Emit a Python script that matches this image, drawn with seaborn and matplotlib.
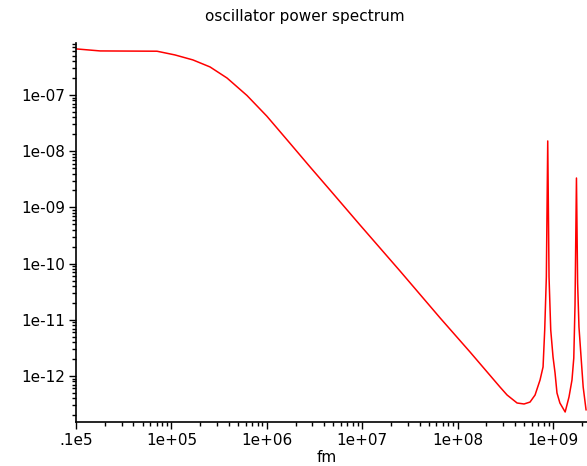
import numpy as np
import pandas as pd
import matplotlib
matplotlib.use("Agg")
import matplotlib.pyplot as plt
import seaborn as sns
from matplotlib.ticker import FixedLocator, FixedFormatter, LogLocator, NullFormatter

# values (frequency fm, power)
fm = [1.0e4, 1.79e4, 7.06e4, 1.09e5, 1.68e5, 2.54e5, 3.83e5, 6.19e5, 1.0e6,
      1.75e6, 2.84e6, 4.59e6, 9.48e6, 2.49e7, 6.55e7, 1.35e8, 2.78e8, 3.30e8,
      4.20e8, 4.97e8, 5.74e8, 6.48e8, 7.31e8, 7.86e8, 8.18e8, 8.51e8, 8.80e8,
      9.08e8, 9.46e8, 1.0e9, 1.05e9, 1.10e9, 1.18e9, 1.34e9, 1.47e9, 1.58e9,
      1.65e9, 1.70e9, 1.76e9, 1.81e9, 1.87e9, 1.97e9, 2.07e9, 2.22e9]
power = [6.6e-7, 6.07e-7, 6.0e-7, 5.15e-7, 4.2e-7, 3.15e-7, 2.0e-7, 9.8e-8,
         4.2e-8, 1.38e-8, 5.24e-9, 2.04e-9, 4.86e-10, 7.38e-11, 1.08e-11,
         2.67e-12, 6.37e-13, 4.59e-13, 3.31e-13, 3.18e-13, 3.44e-13, 4.59e-13,
         8.5e-13, 1.45e-12, 6.59e-12, 5.78e-11, 1.52e-8, 5.78e-11, 6.59e-12,
         2.18e-12, 1.13e-12, 4.99e-13, 3.31e-13, 2.29e-13, 4.23e-13, 8.5e-13,
         2.09e-12, 1.83e-11, 3.33e-9, 4.52e-11, 7.45e-12, 2.09e-12, 6.37e-13,
         2.48e-13]

x_ticks = [1e4, 1e5, 1e6, 1e7, 1e8, 1e9]
x_labels = [".1e5", "1e+05", "1e+06", "1e+07", "1e+08", "1e+09"]
y_ticks = [1e-7, 1e-8, 1e-9, 1e-10, 1e-11, 1e-12]
y_labels = ["1e-07", "1e-08", "1e-09", "1e-10", "1e-11", "1e-12"]

df = pd.DataFrame({"fm": fm, "power": power})

sns.set_style("ticks")
plt.rcParams["font.family"] = ["DejaVu Sans"]
plt.rcParams["text.color"] = "black"

fig = plt.figure(figsize=(5.87, 4.66), dpi=100)
ax = fig.add_axes([76 / 587, 44 / 466, 511 / 587, 379 / 466])

sns.lineplot(data=df, x="fm", y="power", color="#ff0000", linewidth=1.1, ax=ax)

ax.set_xscale("log")
ax.set_yscale("log")
ax.set_xlim(1e4, 2.27e9)
ax.set_ylim(1.52e-13, 8.4e-7)

ax.xaxis.set_major_locator(FixedLocator(x_ticks))
ax.xaxis.set_major_formatter(FixedFormatter(x_labels))
ax.yaxis.set_major_locator(FixedLocator(y_ticks))
ax.yaxis.set_major_formatter(FixedFormatter(y_labels))
ax.xaxis.set_minor_locator(LogLocator(base=10, subs=np.arange(2, 10), numticks=20))
ax.yaxis.set_minor_locator(LogLocator(base=10, subs=np.arange(2, 10), numticks=20))
ax.xaxis.set_minor_formatter(NullFormatter())
ax.yaxis.set_minor_formatter(NullFormatter())

ax.tick_params(which="major", length=5, width=1, labelsize=11, colors="black", pad=3)
ax.tick_params(which="minor", length=3, width=1, colors="black")
sns.despine(ax=ax)
for side in ["left", "bottom"]:
    ax.spines[side].set_linewidth(1.2)
    ax.spines[side].set_color("black")

ax.set_xlabel("")
ax.set_ylabel("")
fig.text(327 / 587, 1 - 458 / 466, "fm", ha="center", va="center", fontsize=11, color="black")
fig.text(305 / 587, 1 - 17 / 466, "oscillator power spectrum", ha="center", va="center",
         fontsize=11, color="black")

fig.savefig("out.png", dpi=100)
